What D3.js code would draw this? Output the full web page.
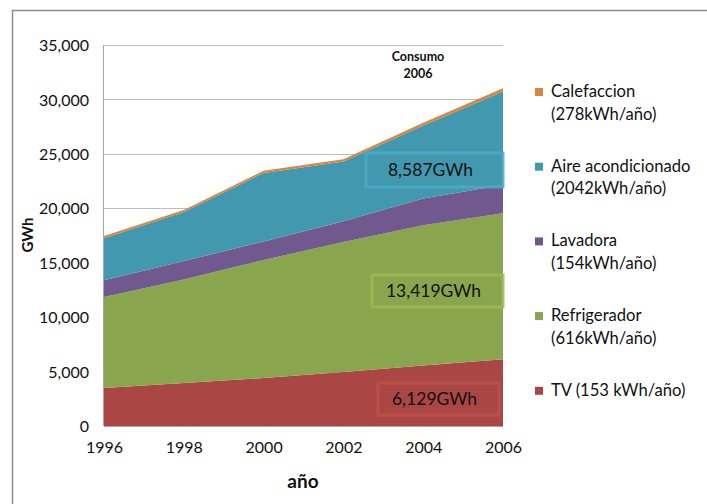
<!DOCTYPE html>
<html>
<head>
<meta charset="utf-8">
<script src="https://cdn.jsdelivr.net/npm/d3@7"></script>
<style>
  body { margin: 0; background: #fff; }
  text { font-family: Lato, "Open Sans", sans-serif; fill: #111; }
</style>
</head>
<body>
<div class="container"></div>
<script>
// data (GWh)
const years = [1996, 1998, 2000, 2002, 2004, 2006];
const tv = [3500, 3950, 4400, 4950, 5550, 6129];
const refrigerador = [8350, 9500, 10850, 11950, 12900, 13419];
const lavadora = [1550, 1700, 1700, 1900, 2450, 2600];
const aire = [3850, 4500, 6300, 5500, 6700, 8587];
const calefaccion = [200, 200, 200, 200, 250, 300];
const yTicks = [0, 5000, 10000, 15000, 20000, 25000, 30000, 35000];

const seriesKeys = ['tv', 'refrigerador', 'lavadora', 'aire', 'calefaccion'];
const colors = {
    tv: '#AA4644',
    refrigerador: '#89A54E',
    lavadora: '#71588F',
    aire: '#4198AF',
    calefaccion: '#DB843D',
}
const legendItems = [
    { key: 'calefaccion', lines: ['Calefaccion', '(278kWh/año)'] },
    { key: 'aire', lines: ['Aire acondicionado', '(2042kWh/año)'] },
    { key: 'lavadora', lines: ['Lavadora', '(154kWh/año)'] },
    { key: 'refrigerador', lines: ['Refrigerador', '(616kWh/año)'] },
    { key: 'tv', lines: ['TV (153 kWh/año)'] },
];
// labels placed on 2006 values
const callouts = [
    { key: 'aire', text: '8,587GWh', value: aire[5], stroke: '#4BACC6', box: [366, 153, 137, 34] },
    { key: 'refrigerador', text: '13,419GWh', value: refrigerador[5], stroke: '#9BBB59', box: [372, 275, 131, 32] },
    { key: 'tv', text: '6,129GWh', value: tv[5], stroke: '#C0504D', box: [378, 383, 121, 32] },
];

const w = 707;
const h = 504;
const margin = { top: 45, left: 104, right: 204, bottom: 78 };

const table = years.map((y, i) => ({
    year: y, tv: tv[i], refrigerador: refrigerador[i], lavadora: lavadora[i],
    aire: aire[i], calefaccion: calefaccion[i],
}));

const svg = d3.select('.container')
    .append('svg')
    .attr('width', w)
    .attr('height', h);

// outer frame (runs off the window on the right and bottom)
svg.append('rect')
    .attr('x', 12.5).attr('y', 10.5)
    .attr('width', 720).attr('height', 520)
    .attr('fill', 'none')
    .attr('stroke', '#8c8c8c')
    .attr('stroke-width', 1.5);

const xScale = d3.scaleLinear().domain([1996, 2006]).range([margin.left, w - margin.right]);
const yScale = d3.scaleLinear().domain([0, 35000]).range([h - margin.bottom, margin.top]);

// gridlines
svg.append('g')
    .selectAll('line')
    .data(yTicks.filter(d => d > 0))
    .join('line')
    .attr('x1', margin.left).attr('x2', w - margin.right)
    .attr('y1', d => Math.round(yScale(d)) + 0.5)
    .attr('y2', d => Math.round(yScale(d)) + 0.5)
    .attr('stroke', '#bdbdbd');

const stack = d3.stack().keys(seriesKeys)(table);
const area = d3.area()
    .x(d => xScale(d.data.year))
    .y0(d => yScale(d[0]))
    .y1(d => yScale(d[1]));

svg.append('g')
    .selectAll('path')
    .data(stack)
    .join('path')
    .attr('d', area)
    .attr('fill', d => colors[d.key]);

// axis lines
svg.append('line')
    .attr('x1', margin.left - 0.5).attr('x2', margin.left - 0.5)
    .attr('y1', margin.top).attr('y2', yScale(0))
    .attr('stroke', '#a6a6a6');
svg.append('line')
    .attr('x1', margin.left).attr('x2', w - margin.right)
    .attr('y1', yScale(0) + 0.5).attr('y2', yScale(0) + 0.5)
    .attr('stroke', '#a6a6a6');

const yAxis = d3.axisLeft(yScale).tickValues(yTicks).tickSize(0).tickPadding(15)
    .tickFormat(d3.format(','));
svg.append('g')
    .attr('transform', `translate(${margin.left}, 0)`)
    .call(yAxis)
    .call(g => g.select('.domain').remove())
    .call(g => g.selectAll('text').attr('font-size', 16).attr('dy', '0.35em').attr('fill', '#111')
        .style('font-family', 'Lato, sans-serif'));

const xAxis = d3.axisBottom(xScale).tickValues(years).tickSize(0).tickPadding(16)
    .tickFormat(d3.format('d'));
svg.append('g')
    .attr('transform', `translate(0, ${yScale(0)})`)
    .call(xAxis)
    .call(g => g.select('.domain').remove())
    .call(g => g.selectAll('text').attr('font-size', 16).attr('fill', '#111')
        .style('font-family', 'Lato, sans-serif'));

// axis titles
svg.append('text')
    .text('año')
    .attr('x', 303).attr('y', 488)
    .attr('text-anchor', 'middle')
    .style('font-size', 19)
    .style('font-weight', 'bold');

svg.append('text')
    .text('GWh')
    .attr('transform', 'translate(33, 235) rotate(-90)')
    .attr('text-anchor', 'middle')
    .style('font-size', 15)
    .style('font-weight', 'bold');

// title inside the plot
svg.append('text')
    .attr('x', 418).attr('y', 61)
    .attr('text-anchor', 'middle')
    .style('font-size', 12.5)
    .style('font-weight', 'bold')
    .selectAll('tspan')
    .data(['Consumo', '2006'])
    .join('tspan')
    .attr('x', 418)
    .attr('dy', (d, i) => i ? 17 : 0)
    .text(d => d);

// callout boxes
const co = svg.append('g')
    .selectAll('g')
    .data(callouts)
    .join('g');
co.append('rect')
    .attr('x', d => d.box[0]).attr('y', d => d.box[1])
    .attr('width', d => d.box[2]).attr('height', d => d.box[3])
    .attr('fill', 'none')
    .attr('stroke', d => d.stroke)
    .attr('stroke-opacity', 0.85)
    .attr('stroke-width', 3);
co.append('text')
    .text(d => d.text)
    .attr('x', d => d.box[0] + d.box[2] / 2 - 4)
    .attr('y', d => d.box[1] + d.box[3] / 2)
    .attr('dy', '0.36em')
    .attr('text-anchor', 'middle')
    .style('font-size', 17.5);

// legend
const lg = svg.append('g')
    .selectAll('g')
    .data(legendItems)
    .join('g')
    .attr('transform', (d, i) => `translate(535, ${97 + i * 74.7})`);
lg.append('rect')
    .attr('x', 0).attr('y', -9)
    .attr('width', 8).attr('height', 8)
    .attr('fill', d => colors[d.key]);
lg.append('text')
    .style('font-size', 16.6)
    .selectAll('tspan')
    .data(d => d.lines)
    .join('tspan')
    .attr('x', 16)
    .attr('y', (d, i) => i * 22.5)
    .text(d => d);
</script>
</body>
</html>
